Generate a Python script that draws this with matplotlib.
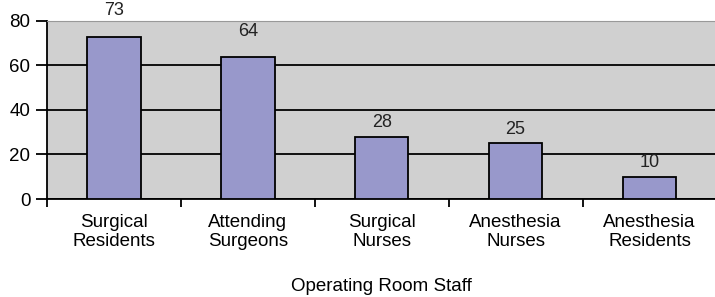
import matplotlib

matplotlib.use("Agg")
import matplotlib.pyplot as plt
import numpy as np

categories = [
    "Surgical\nResidents",
    "Attending\nSurgeons",
    "Surgical\nNurses",
    "Anesthesia\nNurses",
    "Anesthesia\nResidents",
]
counts = [73, 64, 28, 25, 10]
label_pad = [13, 12, 4, 4, 4]  # points above bar top, as in the original

plt.rcParams["font.family"] = ["Liberation Sans", "DejaVu Sans"]

fig = plt.figure(figsize=(7.15, 2.97), dpi=100)
ax = fig.add_axes([47 / 715, 1 - 199 / 297, 1 - 47 / 715 + 0.002, (199 - 21) / 297])
ax.set_facecolor("#d0d0d0")

x = np.arange(len(categories))
ax.bar(x, counts, width=0.4, color="#9898cb", edgecolor="black", linewidth=1.3, zorder=3)
for xi, v, pad in zip(x, counts, label_pad):
    ax.annotate(str(v), (xi, v), xytext=(0, pad), textcoords="offset points",
                ha="center", va="bottom", fontsize=13, color="#222222",
                annotation_clip=False)

ax.set_xlim(-0.5, len(categories) - 0.5)
ax.set_ylim(0, 80)
ax.set_yticks([0, 20, 40, 60, 80])
ax.yaxis.grid(True, color="black", linewidth=1.3, zorder=1)
ax.set_axisbelow(True)

ax.set_xticks(np.arange(len(categories) + 1) - 0.5)
ax.set_xticklabels([])
ax.set_xticks(x, minor=True)
ax.set_xticklabels(categories, minor=True, fontsize=13.5, linespacing=1.15)
ax.tick_params(axis="x", which="major", length=6, width=1.3, direction="out")
ax.tick_params(axis="x", which="minor", length=0, pad=11)
ax.tick_params(axis="y", length=8, width=1.3, labelsize=13.5, pad=4)

ax.set_xlabel("Operating Room Staff", fontsize=13.5, labelpad=20)

for s in ["left", "bottom"]:
    ax.spines[s].set_linewidth(1.3)
ax.spines["top"].set_color("#999999")
ax.spines["right"].set_visible(False)

fig.savefig("out.png", dpi=100)
